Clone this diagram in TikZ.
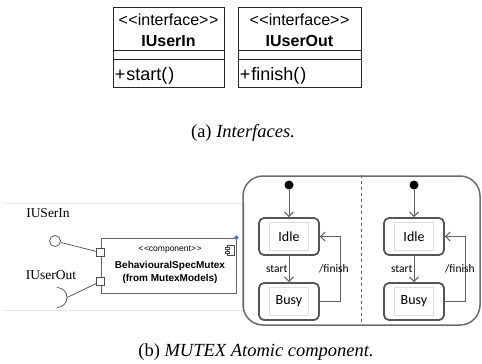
\documentclass[tikz,border=0pt]{standalone}
\usepackage{fontspec}
\setmainfont{Liberation Serif}
\newfontfamily\umlfont{Liberation Sans}
\newfontfamily\statefont{Carlito}
\usetikzlibrary{arrows.meta,positioning,shapes.geometric}
\newcommand\umlstereo[1]{<\kern0.6pt<#1>\kern0.6pt>}
\definecolor{stategray}{HTML}{555555}
\definecolor{markblue}{HTML}{4A6FD0}
\tikzset{
  ifbox/.style={draw=black!85, line width=0.9pt, minimum height=80, inner sep=0pt},
  ifline/.style={draw=black!85, line width=0.9pt},
  iftext/.style={font=\umlfont\fontsize{16}{18}\selectfont, inner sep=0pt},
  ifname/.style={font=\umlfont\fontsize{16}{18}\selectfont\bfseries, inner sep=0pt},
  ifop/.style={font=\umlfont\fontsize{18}{20}\selectfont, inner sep=0pt, anchor=west},
  caption/.style={font=\fontsize{18.5}{21}\selectfont, inner sep=0pt},
  ifacelbl/.style={font=\fontsize{13.5}{15}\selectfont, inner sep=0pt},
  comp/.style={draw=black!60, line width=0.8pt, minimum width=135, minimum height=55, inner sep=0pt},
  comptext/.style={font=\umlfont\fontsize{8.5}{10}\selectfont, inner sep=0pt},
  compname/.style={font=\umlfont\fontsize{10}{12}\selectfont\bfseries, inner sep=0pt},
  port/.style={draw=black!70, fill=white, line width=0.7pt, minimum size=8.5, inner sep=0pt},
  ball/.style={circle, draw=black!70, line width=0.7pt, minimum size=11, inner sep=0pt},
  wire/.style={draw=black!70, line width=0.7pt},
  cornermark/.style={diamond, fill=markblue, minimum size=5, inner sep=0pt},
  region/.style={draw=black!58, line width=1.5pt, rounded corners=20, minimum width=237, minimum height=149},
  divider/.style={draw=black!60, line width=0.7pt, dashed},
  initdot/.style={circle, fill=black, minimum size=9, inner sep=0pt},
  state/.style={draw=stategray, line width=1.8pt, rounded corners=5, minimum width=60, minimum height=37,
    font=\statefont\fontsize{14}{16}\selectfont},
  statein/.style={draw=black!13, line width=0.6pt, minimum width=39, minimum height=28, inner sep=0pt},
  trans/.style={draw=black!62, line width=1pt, -{Straight Barb[length=4.5,width=9]}},
  translbl/.style={font=\statefont\fontsize{11.5}{13}\selectfont, inner sep=1pt},
  faint/.style={draw=black!10, line width=0.6pt}
}

\begin{document}
\begin{tikzpicture}[x=1pt,y=-1pt]
  \useasboundingbox (0,0) rectangle (482,364);

  %%%%% INTERFACES %%%%%
  \node[ifbox, minimum width=111] (inbox) at (168.5,47) {};
  \draw[ifline] ([yshift=-44]inbox.north west) -- ([yshift=-44]inbox.north east);
  \draw[ifline] ([yshift=-53]inbox.north west) -- ([yshift=-53]inbox.north east);
  \node[iftext] (instereo) at (168.5,20) {\umlstereo{interface}};
  \node[ifname] (inname) at (168.5,41) {IUserIn};
  \node[ifop] (inop) at ([xshift=2]inbox.west |- 0,76) {+\kern1pt start(\kern1pt)};

  \node[ifbox, minimum width=123] (outbox) at (299.5,47) {};
  \draw[ifline] ([yshift=-44]outbox.north west) -- ([yshift=-44]outbox.north east);
  \draw[ifline] ([yshift=-53]outbox.north west) -- ([yshift=-53]outbox.north east);
  \node[iftext] (outstereo) at (299.5,20) {\umlstereo{interface}};
  \node[ifname] (outname) at (299.5,41) {IUserOut};
  \node[ifop] (outop) at ([xshift=2]outbox.west |- 0,76) {+\kern1pt finish(\kern1pt)};

  \node[caption] (capa) at (243,133) {(a) \textit{Interfaces.}};

  %%%%% COMPONENT %%%%%
  \draw[faint] (5,203) -- (244,203) -- (244,310) -- (5,310);

  \node[comp] (mutex) at (168.5,265.5) {};
  \node[comptext] (mutexstereo) at (170,250) {\umlstereo{component}};
  \node[compname] (mutexname) at (170,266) {BehaviouralSpecMutex};
  \node[compname] (mutexpkg) at (170,279) {(from MutexModels)};
  \draw[wire, fill=white] (227.5,245) rectangle (234,255);
  \draw[wire, fill=white] (225.5,247) rectangle (229.5,249.5);
  \draw[wire, fill=white] (225.5,251) rectangle (229.5,253.5);
  \node[cornermark] (mutexmark) at (mutex.north east) {};

  \node[port] (portin) at (100.5,252.5) {};
  \node[port] (portout) at (100.5,281.5) {};

  \node[ifacelbl] (inlbl) at (48,213) {IUSerIn};
  \node[ball] (inball) at (55,241) {};
  \draw[wire] (inball) -- (portin);

  \node[ifacelbl] (outlbl) at (51,275) {IUserOut};
  \coordinate (socket) at (57,297.5);
  \coordinate (socketend) at (67,297.5);
  \draw[wire] ([yshift=10]socket) arc[start angle=-90, end angle=90, radius=10];
  \draw[wire] (socketend) -- (portout);

  %%%%% STATE MACHINE %%%%%
  \node[region] (machine) at (361.5,250.5) {};
  \draw[divider] (machine.north) -- (machine.south);

  % left region
  \node[initdot] (inita) at (289,185) {};
  \node[state] (idlea) at (289,236.5) {Idle};
  \node[statein] (idleain) at (idlea.center) {};
  \node[state] (busya) at (289,301.5) {Busy};
  \node[statein] (busyain) at (busya.center) {};
  \draw[trans] (inita) -- (idlea);
  \draw[trans] (idlea) -- node[translbl, left] {start} (busya);
  \draw[trans] (busya.east) -| node[translbl, pos=0.75, xshift=-7] {/finish} ([xshift=21]idlea.east) -- (idlea.east);

  % right region
  \node[initdot] (initb) at (414,185) {};
  \node[state] (idleb) at (414,236.5) {Idle};
  \node[statein] (idlebin) at (idleb.center) {};
  \node[state] (busyb) at (414,301.5) {Busy};
  \node[statein] (busybin) at (busyb.center) {};
  \draw[trans] (initb) -- (idleb);
  \draw[trans] (idleb) -- node[translbl, left] {start} (busyb);
  \draw[trans] (busyb.east) -| node[translbl, pos=0.75, xshift=-6] {/finish} ([xshift=21]idleb.east) -- (idleb.east);

  \node[caption] (capb) at (256,352) {(b) \textit{MUTEX Atomic component.}};
\end{tikzpicture}
\end{document}
